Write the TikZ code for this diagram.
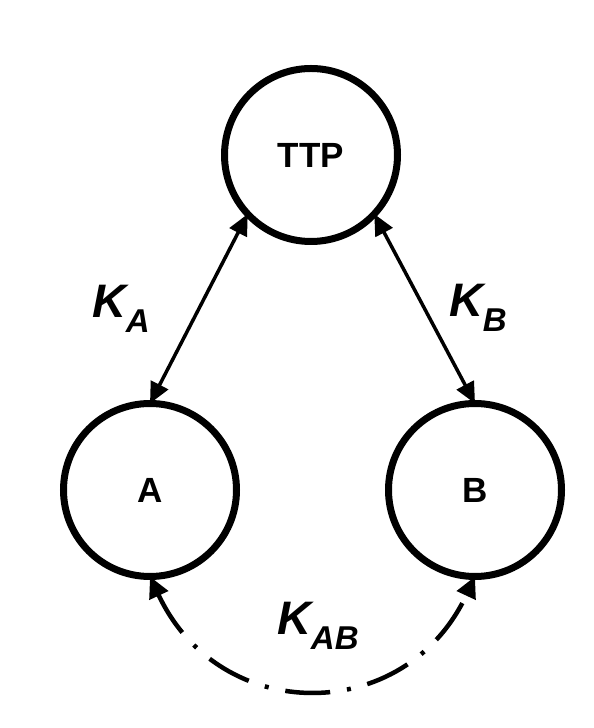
\documentclass[tikz,border=0pt]{standalone}
\usepackage{fontspec}
\setmainfont{Liberation Sans}
\usetikzlibrary{arrows.meta}
\newcommand{\keylabel}[2]{{\fontsize{47}{47}\selectfont\bfseries\itshape K\raisebox{-15pt}{\fontsize{33}{33}\selectfont #2}}}
\begin{document}
\begin{tikzpicture}[x=1pt,y=1pt,
  party/.style={circle,draw=black,line width=7pt,minimum size=173pt,inner sep=0pt,outer sep=0pt,
    font=\fontsize{35}{35}\selectfont\bfseries},
  keyarrow/.style={line width=3.5pt,{Triangle[length=21pt,width=19pt]}-{Triangle[length=21pt,width=19pt]}},
  sessarrow/.style={line width=4.5pt,dash pattern=on 45pt off 17pt on 4pt off 17pt,
    {Triangle[length=21pt,width=20pt]}-{Triangle[length=21pt,width=20pt]}},
  keytext/.style={anchor=base west,inner sep=0pt,outer sep=0pt}]
\useasboundingbox (0,0) rectangle (594,728);
\node[party] (TTP) at (311,573) {TTP};
\node[party] (A) at (150,238) {A};
\node[party] (B) at (475,238) {B};
\draw[keyarrow] (TTP.223) -- (A.north);
\draw[keyarrow] (TTP.-43) -- (B.north);
\draw[sessarrow] (A.south) to[out=-65,in=-115,looseness=1.3] (B.south);
\node[keytext] (KA) at (92,410) {\keylabel{K}{A}};
\node[keytext] (KB) at (449,411) {\keylabel{K}{B}};
\node[keytext] (KAB) at (277,93) {\keylabel{K}{AB}};
\end{tikzpicture}
\end{document}
